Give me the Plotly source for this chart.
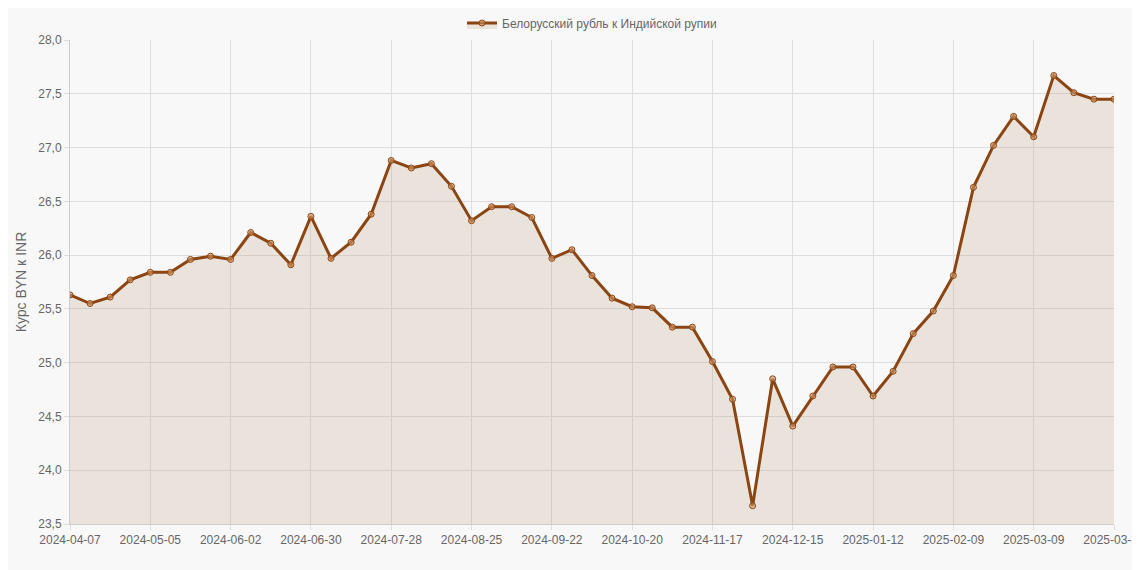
import pandas as pd
import plotly.graph_objects as go

# weekly dates (last point labelled 2025-03-31)
dates = [d.strftime("%Y-%m-%d") for d in pd.date_range("2024-04-07", periods=52, freq="7D")] + ["2025-03-31"]

rates = [
    25.63, 25.55, 25.61, 25.77, 25.84, 25.84, 25.96, 25.99, 25.96, 26.21,
    26.11, 25.91, 26.36, 25.97, 26.12, 26.38, 26.88, 26.81, 26.85, 26.64,
    26.32, 26.45, 26.45, 26.35, 25.97, 26.05, 25.81, 25.60, 25.52, 25.51,
    25.33, 25.33, 25.01, 24.66, 23.67, 24.85, 24.41, 24.69, 24.96, 24.96,
    24.69, 24.92, 25.27, 25.48, 25.81, 26.63, 27.02, 27.29, 27.10, 27.67,
    27.51, 27.45, 27.45,
]

tick_dates = dates[::4]

fig = go.Figure(go.Scatter(
    x=dates, y=rates,
    mode="lines+markers",
    name="Белорусский рубль к Индийской рупии",
    line=dict(color="#8B4513", width=3),
    marker=dict(size=6, color="rgba(210,150,100,0.6)", line=dict(color="#8B4513", width=1)),
    fill="tozeroy",
    fillcolor="rgba(190,165,130,0.25)",
))

fig.update_layout(
    width=1140, height=570,
    paper_bgcolor="#f8f8f8", plot_bgcolor="#f8f8f8",
    margin=dict(l=62, r=34, t=32, b=54, autoexpand=False),
    font=dict(family="Liberation Sans, Arial", size=12, color="#666"),
    separators=", ",
    showlegend=True,
    legend=dict(orientation="h", x=0.5, xanchor="center", y=1.065, yanchor="top",
                font=dict(size=12, color="#666")),
    xaxis=dict(type="category", tickvals=tick_dates, ticktext=tick_dates,
               showgrid=True, gridcolor="#ddd", linecolor="#ccc", tickangle=0,
               range=[0, len(dates) - 1], ticks="outside", tickcolor="#ddd",
               automargin=False),
    yaxis=dict(title=dict(text="Курс BYN к INR", standoff=8), range=[23.5, 28.0], dtick=0.5,
               tickformat=".1f", showgrid=True, gridcolor="#ddd", linecolor="#ccc",
               zeroline=False, ticks="outside", tickcolor="#ddd", automargin=False),
)

fig.write_html("out.html")
